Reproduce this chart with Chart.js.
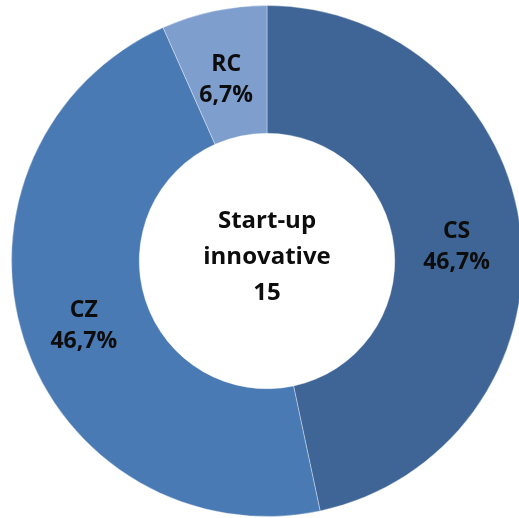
<!DOCTYPE html>
<html>
<head>
<meta charset="utf-8">
<script src="https://cdn.jsdelivr.net/npm/chart.js@4"></script>
<style>
html,body{margin:0;padding:0;background:#fff;overflow:hidden;width:519px;height:518px;}
#wrap{position:absolute;left:0;top:0;width:534px;height:522px;}
</style>
</head>
<body>
<div id="wrap"><canvas id="c" width="534" height="522"></canvas></div>
<script>
const categories = ["CS", "CZ", "RC"];
const counts = [7, 7, 1];
const percentLabels = ["46,7%", "46,7%", "6,7%"];
const centerLines = ["Start-up", "innovative", "15"];
const colors = ["#3E6596", "#4A7AB4", "#7E9ECE"];

const labelPlugin = {
  id: 'labels',
  afterDatasetsDraw(chart) {
    const ctx = chart.ctx;
    const meta = chart.getDatasetMeta(0);
    ctx.save();
    ctx.fillStyle = '#0d0d0d';
    ctx.textAlign = 'center';
    ctx.textBaseline = 'alphabetic';
    ctx.font = 'bold 23px "Open Sans"';
    meta.data.forEach((arc, i) => {
      const p = arc.tooltipPosition();
      ctx.fillText(categories[i], p.x - 1, p.y - 3);
      ctx.fillText(percentLabels[i], p.x - 1, p.y + 28);
    });
    const cx = meta.data[0].x, cy = meta.data[0].y;
    ctx.font = 'bold 24px "Open Sans"';
    centerLines.forEach((t, i) => {
      ctx.fillText(t, cx, cy - 33 + i * 36);
    });
    ctx.restore();
  }
};

new Chart(document.getElementById('c'), {
  type: 'doughnut',
  data: {
    labels: categories,
    datasets: [{
      data: counts,
      backgroundColor: colors,
      borderColor: 'rgba(255,255,255,0.35)',
      borderWidth: 1
    }]
  },
  options: {
    responsive: false,
    animation: false,
    cutout: '50%',
    layout: { padding: 5 },
    plugins: { legend: { display: false }, tooltip: { enabled: false } }
  },
  plugins: [labelPlugin]
});
</script>
</body>
</html>
